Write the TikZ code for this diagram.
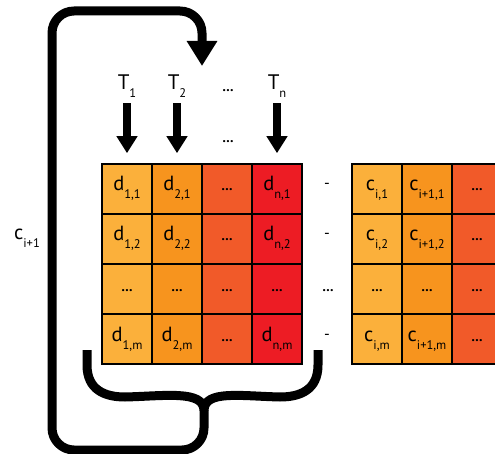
\documentclass[tikz,border=0pt]{standalone}
\usepackage{fontspec}
\setmainfont{PT Sans}
\usetikzlibrary{arrows.meta}
\definecolor{colA}{HTML}{FBB03B}
\definecolor{colB}{HTML}{F7941E}
\definecolor{colC}{HTML}{F15A29}
\definecolor{colD}{HTML}{ED1C24}
% letter with a low-set index
\newcommand\lab[2]{{\fontsize{20.5}{20}\selectfont #1}\raisebox{-8pt}{\fontsize{12.5}{12}\selectfont #2}}
\newcommand\bolddots{{\fontsize{14}{14}\selectfont\bfseries …}}
\tikzset{
  cell/.style={draw, line width=1.6pt, minimum size=50pt, inner sep=0pt,
               text height=4pt, text depth=0pt},
  tag/.style={inner sep=0pt, text height=4pt, text depth=0pt},
  tarrow/.style={line width=8pt, -{Triangle[width=20pt,length=17pt]}},
  cyclearrow/.style={line width=9pt, line cap=butt, line join=round,
               -{Triangle[width=29pt,length=25pt]}},
  brace/.style={line width=9pt, line cap=butt, line join=round},
}
\begin{document}
\begin{tikzpicture}[x=1pt,y=-1pt]
\useasboundingbox (0,0) rectangle (495,454);
\clip (0,0) rectangle (495,454);

% left grid
\foreach \r/\y in {1/189,2/239,4/339}{
  \node[cell, fill=colA] (d1\r) at (127,\y) {\lab{d}{1,\ifnum\r=4 m\else\r\fi}};
  \node[cell, fill=colB] (d2\r) at (177,\y) {\lab{d}{2,\ifnum\r=4 m\else\r\fi}};
  \node[cell, fill=colC] (d3\r) at (227,\y) {\bolddots};
  \node[cell, fill=colD] (d4\r) at (277,\y) {\lab{d}{n,\ifnum\r=4 m\else\r\fi}};
}
\node[cell, fill=colA] (d13) at (127,289) {\bolddots};
\node[cell, fill=colB] (d23) at (177,289) {\bolddots};
\node[cell, fill=colC] (d33) at (227,289) {\bolddots};
\node[cell, fill=colD] (d43) at (277,289) {\bolddots};

% right grid
\foreach \r/\y in {1/189,2/239,4/339}{
  \node[cell, fill=colA] (c1\r) at (377,\y) {\lab{c}{i,\ifnum\r=4 m\else\r\fi}};
  \node[cell, fill=colB] (c2\r) at (427,\y) {\lab{c}{i+1,\ifnum\r=4 m\else\r\fi}};
  \node[cell, fill=colC] (c3\r) at (477,\y) {\bolddots};
}
\node[cell, fill=colA] (c13) at (377,289) {\bolddots};
\node[cell, fill=colB] (c23) at (427,289) {\bolddots};
\node[cell, fill=colC] (c33) at (477,289) {\bolddots};

% minus signs between the grids
\node[tag] (m1) at (327,187) {\fontsize{16}{16}\selectfont -};
\node[tag] (m2) at (327,237) {\fontsize{16}{16}\selectfont -};
\node[tag] (m3) at (328,289) {\bolddots};
\node[tag] (m4) at (327,337) {\fontsize{16}{16}\selectfont -};

% task labels
\node[tag] (t1) at (127,88) {\lab{\fontsize{21}{21}\selectfont T}{1}};
\node[tag] (t2) at (177,88) {\lab{\fontsize{21}{21}\selectfont T}{2}};
\node[tag] (t3) at (228,90) {\bolddots};
\node[tag] (t4) at (277,88) {\lab{\fontsize{21}{21}\selectfont T}{n}};
\node[tag] (t5) at (228,141) {\bolddots};

\foreach \t/\c in {t1/d11,t2/d21,t4/d41}
  \draw[tarrow, shorten <=13pt, shorten >=10pt] (\c.north |- \t.south) -- (\c.north);

% side label
\node[tag] (ci) at (27,238) {\lab{c}{i+1}};

% brace under the left grid
\coordinate (cusp) at (204,410);
\draw[brace] (87,350) -- (87,365) .. controls (87,390) and (105,397) .. (125,397)
  .. controls (165,396) and (203,390) .. (cusp);
\draw[brace] (318,350) -- (318,365) .. controls (318,390) and (300,397) .. (280,397)
  .. controls (240,396) and (205,390) .. (cusp);

% feedback loop back to the top
\coordinate (top) at (202,66);
\draw[cyclearrow, rounded corners=22pt] (cusp) -- (204,450) -- (52,450) -- (52,11)
  -- (202,11) -- (top);
\end{tikzpicture}
\end{document}
